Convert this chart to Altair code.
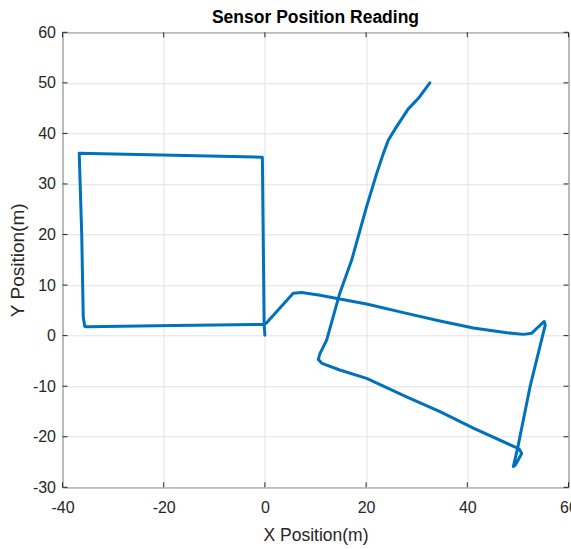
import altair as alt
import pandas as pd

# Recorded sensor track, in metres, in the order it was logged
path_x = [0.0, -0.15, -0.5, -36.7, -36.2, -35.9, -35.6, -35.2, -18.0, -0.2, 0.3,
          5.6, 7.3, 10.9, 14.8, 20.1, 28.0, 34.6, 41.2, 47.8, 51.1, 52.7, 54.0,
          55.2, 55.4, 52.4, 50.0, 49.1, 49.5, 50.75, 50.3, 49.8, 41.2, 34.6,
          28.0, 20.1, 14.8, 11.3, 10.55, 10.9, 12.2, 14.8, 17.15, 20.1, 22.1,
          23.4, 24.4, 26.0, 28.3, 30.3, 32.6]
path_y = [0.1, 2.3, 35.3, 36.1, 20.0, 3.7, 1.8, 1.75, 2.0, 2.2, 2.5,
          8.4, 8.55, 8.0, 7.25, 6.25, 4.4, 2.9, 1.5, 0.57, 0.25, 0.45, 1.7,
          2.8, 2.1, -10.1, -22.0, -25.9, -25.6, -23.3, -22.5, -22.2, -18.3, -15.05,
          -12.1, -8.45, -6.8, -5.5, -4.7, -3.5, -0.9, 8.4, 14.95, 25.5, 32.1,
          36.0, 38.7, 41.3, 44.8, 46.9, 50.0]

x_ticks = [-40, -20, 0, 20, 40, 60]
y_ticks = [-30, -20, -10, 0, 10, 20, 30, 40, 50, 60]

W, H = 506, 455
FONT = "Liberation Sans"
INK = "#262626"
TICK_LEN = 5

path = pd.DataFrame({"x": path_x, "y": path_y, "step": list(range(len(path_x)))})
xt = pd.DataFrame({"x": x_ticks})
yt = pd.DataFrame({"y": y_ticks})

xscale = alt.Scale(domain=[-40, 60], nice=False, zero=False)
yscale = alt.Scale(domain=[-30, 60], nice=False, zero=False)

common_axis = dict(
    grid=True, gridColor="#e2e2e2", gridWidth=1,
    domain=False, ticks=False, tickSize=0,
    labelFont=FONT, labelFontSize=16, labelColor=INK,
    labelFlush=False, labelOverlap=False, labelBound=False,
    labelExpr="toString(datum.value)",   # plain hyphen for negatives
    titleFont=FONT, titleColor=INK, titleFontWeight="normal",
)

x_axis = alt.Axis(values=x_ticks, title="X Position(m)",
                  labelBaseline="alphabetic", labelPadding=25.5,
                  titleFontSize=17.5, titleBaseline="alphabetic",
                  titleX=W / 2, titleY=53, titleAlign="center",
                  **common_axis)
y_axis = alt.Axis(values=y_ticks, title="Y Position(m)",
                  labelPadding=7, labelBaseline="middle",
                  titleFontSize=19, titleAngle=-90, titleBaseline="alphabetic",
                  titleX=-39, titleY=H / 2, titleAlign="center",
                  **common_axis)

X = alt.X("x:Q", scale=xscale, axis=x_axis)
Y = alt.Y("y:Q", scale=yscale, axis=y_axis)

track = alt.Chart(path).mark_line(
    color="#0072BD", strokeWidth=3, strokeJoin="round", strokeCap="round"
).encode(x=X, y=Y, order="step:Q")

# Inward-pointing ticks on all four sides of the box
tick_style = dict(color=INK, strokeWidth=1)
x_bottom = alt.Chart(xt).mark_rule(**tick_style).encode(
    x=X, y=alt.value(H), y2=alt.value(H - TICK_LEN))
x_top = alt.Chart(xt).mark_rule(**tick_style).encode(
    x=X, y=alt.value(0), y2=alt.value(TICK_LEN))
y_left = alt.Chart(yt).mark_rule(**tick_style).encode(
    y=Y, x=alt.value(0), x2=alt.value(TICK_LEN))
y_right = alt.Chart(yt).mark_rule(**tick_style).encode(
    y=Y, x=alt.value(W), x2=alt.value(W - TICK_LEN))

chart = alt.layer(track, x_bottom, x_top, y_left, y_right).properties(
    width=W, height=H,
    title=alt.TitleParams("Sensor Position Reading", font=FONT, fontSize=17.5,
                          fontWeight="bold", color="#000000", anchor="middle",
                          baseline="alphabetic", offset=6.5, frame="group",
                          dy=23),
    autosize="none",
    padding={"left": 62.5, "top": 32.3, "right": 2.5, "bottom": 61.7},
    background="#ffffff",
).configure_view(stroke=INK, strokeWidth=1)

chart.save("out.html", embed_options={"renderer": "svg", "actions": False})
